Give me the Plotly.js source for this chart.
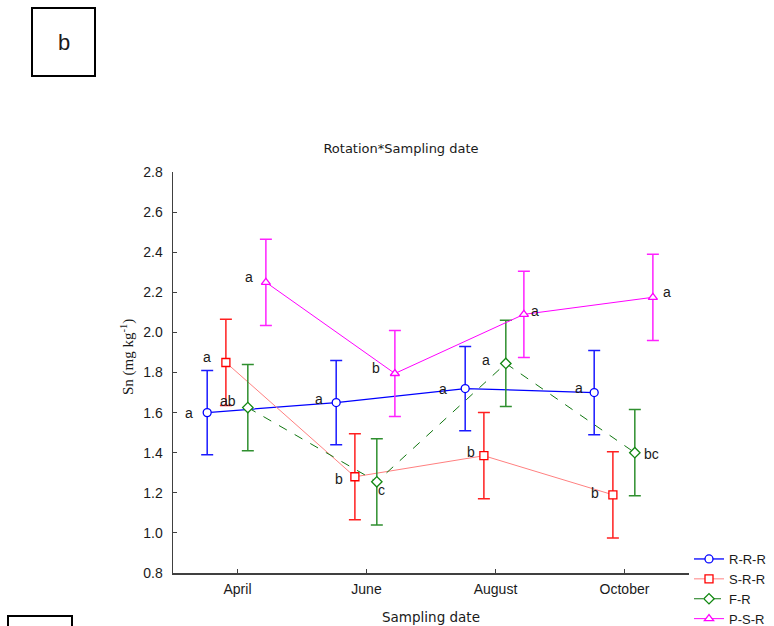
<!DOCTYPE html>
<html>
<head>
<meta charset="utf-8">
<script src="https://cdn.plot.ly/plotly-3.0.1.min.js"></script>
<style>
html,body{margin:0;padding:0;background:#fff;}
#chart{width:774px;height:626px;}
</style>
</head>
<body>
<div id="chart"></div>
<script>
// ---- data ----
var categories = ["April", "June", "August", "October"];
var seriesNames = ["R-R-R", "S-R-R", "F-R", "P-S-R"];

var rrrMean = [1.60, 1.65, 1.72, 1.70];
var rrrErr  = [0.21, 0.21, 0.21, 0.21];
var srrMean = [1.85, 1.28, 1.385, 1.19];
var srrErr  = [0.215, 0.215, 0.215, 0.215];
var frMean  = [1.625, 1.255, 1.845, 1.40];
var frErr   = [0.215, 0.215, 0.215, 0.215];
var psrMean = [2.25, 1.795, 2.09, 2.175];
var psrErr  = [0.215, 0.215, 0.215, 0.215];

var rrrLetters = ["a", "a", "a", "a"];
var srrLetters = ["a", "b", "b", "b"];
var frLetters  = ["ab", "c", "a", "bc"];
var psrLetters = ["a", "b", "a", "a"];

var yTickVals = [0.8, 1.0, 1.2, 1.4, 1.6, 1.8, 2.0, 2.2, 2.4, 2.6, 2.8];

// ---- layout helpers ----
var W = 774, H = 626;
var M = {l: 173, r: 85, t: 172, b: 53, autoexpand: false};
var PW = W - M.l - M.r, PH = H - M.t - M.b;
function px(x) { return (x - M.l) / PW; }
function py(y) { return (H - M.b - y) / PH; }

var styles = [
  {off: -0.235, sym: "circle", mcol: "#0000ff", lcol: "#0000ff", ecol: "#1a1aff", dash: "solid", lw: 1.3,
   lsx: [-18, -17, -22, -15], lsy: [0, 4, 0, 5]},
  {off: -0.09, sym: "square", mcol: "#ff0000", lcol: "#ff8080", ecol: "#ff2020", dash: "solid", lw: 1,
   lsx: [-19, -16, -13, -18], lsy: [5, -2, 4, 2]},
  {off: 0.08, sym: "diamond", mcol: "#118811", lcol: "#117711", ecol: "#2f8f2f", dash: "dash", lw: 1,
   lsx: [-20, 5, -20, 17], lsy: [7, -8, 3, -1]},
  {off: 0.22, sym: "triangle-up", mcol: "#ff00ff", lcol: "#ff00ff", ecol: "#ff22ff", dash: "solid", lw: 1,
   lsx: [-17, -19, 11, 14], lsy: [5, 6, 3, 5]}
];
var means = [rrrMean, srrMean, frMean, psrMean];
var errs = [rrrErr, srrErr, frErr, psrErr];
var letters = [rrrLetters, srrLetters, frLetters, psrLetters];

var traces = [];
var annotations = [];
for (var s = 0; s < 4; s++) {
  var st = styles[s];
  var xs = categories.map(function (c, i) { return i + st.off; });
  traces.push({
    type: "scatter", mode: "lines+markers", name: seriesNames[s],
    x: xs, y: means[s],
    line: {color: st.lcol, width: st.lw, dash: st.dash},
    marker: {symbol: st.sym, size: 8, color: "#ffffff", line: {color: st.mcol, width: 1.3}},
    error_y: {type: "data", array: errs[s], visible: true, color: st.ecol, thickness: 1.5, width: 6},
    hoverinfo: "x+y"
  });
  for (var i = 0; i < 4; i++) {
    annotations.push({
      x: xs[i], y: means[s][i], xref: "x", yref: "y",
      xanchor: "center", yanchor: "middle",
      text: letters[s][i], showarrow: false,
      xshift: st.lsx[i], yshift: st.lsy[i],
      font: {family: "Liberation Sans, Arial, sans-serif", size: 14, color: "#1a1a1a"}
    });
  }
}

// y axis title
annotations.push({
  xref: "paper", yref: "paper", x: px(127), y: py(357),
  xanchor: "center", yanchor: "middle",
  text: "Sn (mg kg<sup>-1</sup>)", textangle: -90, showarrow: false,
  font: {family: "Liberation Serif, Times New Roman, serif", size: 15, color: "#1a1a1a"}
});
// panel label
annotations.push({
  xref: "paper", yref: "paper", x: px(63.5), y: py(42),
  xanchor: "center", yanchor: "middle",
  text: "b", showarrow: false,
  font: {family: "Liberation Sans, Arial, sans-serif", size: 22, color: "#1a1a1a"}
});

var shapes = [
  {type: "rect", xref: "paper", yref: "paper", x0: px(32), x1: px(95), y0: py(76), y1: py(8),
   line: {color: "#000", width: 2}},
  {type: "rect", xref: "paper", yref: "paper", x0: px(8), x1: px(72), y0: py(640), y1: py(616),
   line: {color: "#000", width: 2}}
];

var layout = {
  width: W, height: H,
  margin: M,
  paper_bgcolor: "#fff", plot_bgcolor: "#fff",
  showlegend: true,
  title: {
    text: "Rotation*Sampling date",
    x: 401 / W, xref: "container", xanchor: "center",
    y: 1 - 148 / H, yref: "container", yanchor: "middle",
    font: {family: "DejaVu Sans, Verdana, sans-serif", size: 13, color: "#1a1a1a"}
  },
  xaxis: {
    range: [-0.5, 3.5],
    tickvals: [0, 1, 2, 3], ticktext: categories,
    showgrid: false, zeroline: false,
    showline: true, linecolor: "#404040", linewidth: 1.5,
    ticks: "inside", ticklen: 4, tickcolor: "#404040",
    ticklabelstandoff: 3,
    tickfont: {family: "Liberation Sans, Arial, sans-serif", size: 14, color: "#1a1a1a"},
    title: {text: "Sampling date", standoff: 16,
      font: {family: "DejaVu Sans, Verdana, sans-serif", size: 13.5, color: "#1a1a1a"}}
  },
  yaxis: {
    range: [0.8, 2.8],
    tickvals: yTickVals, ticktext: yTickVals.map(function (v) { return v.toFixed(1); }),
    showgrid: false, zeroline: false,
    showline: true, linecolor: "#404040", linewidth: 1.5,
    ticks: "inside", ticklen: 4, tickcolor: "#404040",
    ticklabelstandoff: 6,
    tickfont: {family: "Liberation Sans, Arial, sans-serif", size: 14, color: "#1a1a1a"}
  },
  legend: {
    x: px(689), xanchor: "left", y: py(544), yanchor: "top",
    bgcolor: "rgba(0,0,0,0)", borderwidth: 0,
    font: {family: "Liberation Sans, Arial, sans-serif", size: 13, color: "#1a1a1a"},
    itemwidth: 30, tracegroupgap: 0
  },
  annotations: annotations,
  shapes: shapes
};

Plotly.newPlot("chart", traces, layout, {staticPlot: true, displayModeBar: false});
</script>
</body>
</html>
